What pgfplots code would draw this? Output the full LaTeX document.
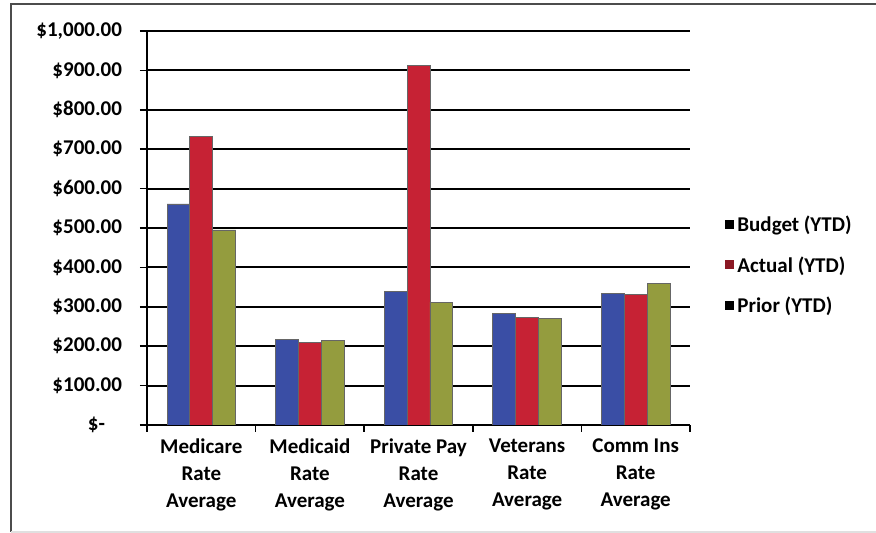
\documentclass[border=0pt]{standalone}
\usepackage{fontspec}
\setmainfont{Carlito}
\usepackage{pgfplots}
\pgfplotsset{compat=1.18}

\definecolor{budget}{RGB}{58,78,165}
\definecolor{actual}{RGB}{198,34,52}
\definecolor{prior}{RGB}{148,156,62}

\begin{document}
\begin{tikzpicture}
% page = 876 x 533 px at 0.5pt per px
\path[use as bounding box] (0,0) rectangle (438pt,266.5pt);
\draw[black!70, line width=1.2pt] (5.5pt,0.5pt) -- (5.5pt,264.5pt) -- (438pt,264.5pt);
\draw[black!12, line width=0.8pt] (5.5pt,0.5pt) -- (438pt,0.5pt);
\begin{axis}[
    at={(73.5pt,54pt)}, anchor=south west,
    scale only axis, width=271.5pt, height=197pt,
    xmin=-0.5, xmax=4.5, ymin=0, ymax=1000,
    axis x line*=bottom, axis y line*=left,
    axis line style={black, line width=1pt},
    ymajorgrids, major grid style={black, line width=1pt},
    tick align=outside,
    ytick={0,100,...,1000},
    yticklabels={{\makebox[17pt][l]{\$-}},{\$100.00},{\$200.00},{\$300.00},{\$400.00},{\$500.00},{\$600.00},{\$700.00},{\$800.00},{\$900.00},{\$1,000.00}},
    yticklabel style={xshift=-5.5pt},
    major y tick style={black, line width=0.8pt}, major tick length=3.5pt,
    xtick={0,...,4},
    xticklabels={{Medicare\\Rate\\Average},{Medicaid\\Rate\\Average},{Private Pay\\Rate\\Average},{Veterans\\Rate\\Average},{Comm Ins\\Rate\\Average}},
    major x tick style={draw=none},
    minor xtick={-0.5,0.5,...,4.5},
    minor x tick style={black, line width=0.8pt}, minor tick length=3.5pt,
    tick label style={font=\bfseries\fontsize{10.5}{13.5}\selectfont},
    xticklabel style={align=center},
    ybar=0pt, bar width=0.21,
    legend style={draw=none, fill=none, at={(axis description cs:1.063,0.404)}, anchor=west,
        row sep=7pt, font=\bfseries\fontsize{10.5}{13}\selectfont, inner sep=0pt},
    legend cell align=left,
]
\addplot[fill=budget, draw=black!60, line width=0.4pt,
    legend image code/.code={\fill[black] (0pt,-1.5pt) rectangle (4pt,2.5pt);}]
    coordinates {(0,561) (1,216) (2,340) (3,284) (4,335)};
\addplot[fill=actual, draw=black!60, line width=0.4pt,
    legend image code/.code={\fill[actual!70!black] (0pt,-1.5pt) rectangle (4pt,2.5pt);}]
    coordinates {(0,732) (1,209) (2,912) (3,274) (4,332)};
\addplot[fill=prior, draw=black!60, line width=0.4pt,
    legend image code/.code={\fill[black] (0pt,-1.5pt) rectangle (4pt,2.5pt);}]
    coordinates {(0,495) (1,215) (2,312) (3,271) (4,360)};
\legend{Budget (YTD),Actual (YTD),Prior (YTD)}
\end{axis}
\end{tikzpicture}
\end{document}
